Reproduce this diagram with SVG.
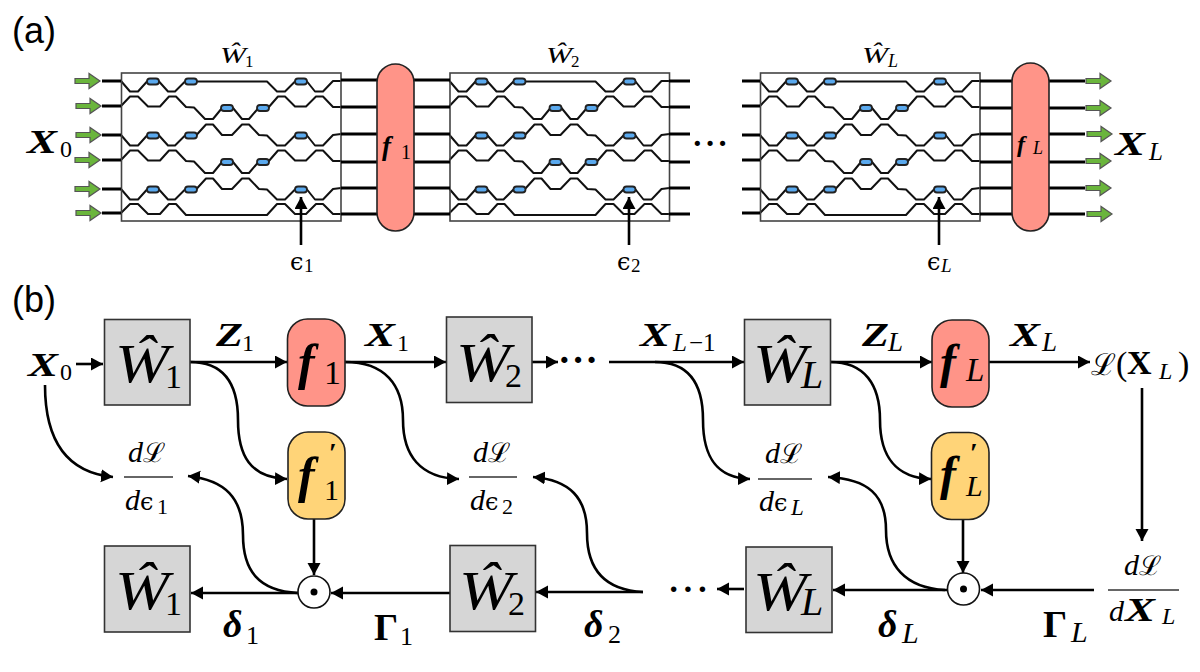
<svg xmlns="http://www.w3.org/2000/svg" width="1200" height="672" viewBox="0 0 1200 672">
<style>
text{font-family:"Liberation Serif","DejaVu Serif",serif;fill:#000}
.lab{font-family:"Liberation Sans",Arial,sans-serif;font-size:36px}
.bi{font-weight:bold;font-style:italic}
.b{font-weight:bold}
.i{font-style:italic}
.m{font-family:"DejaVu Serif","Liberation Serif",serif}
.mid{text-anchor:middle}
.wire{fill:none;stroke:#111;stroke-width:2;stroke-linejoin:round}
.stub{fill:none;stroke:#000;stroke-width:2.8}
.frame{fill:none;stroke:#444;stroke-width:1.6}
.pill{fill:#5aa9ee;stroke:#222;stroke-width:1.8}
.nl{fill:#ff9488;stroke:#222;stroke-width:1.6}
.nd{fill:#ffd478;stroke:#222;stroke-width:1.6}
.gb{fill:#d6d6d6;stroke:#333;stroke-width:1.6}
.odot{fill:#fff;stroke:#111;stroke-width:1.6}
.con{fill:none;stroke:#000;stroke-width:2.6;marker-end:url(#ah)}
.cur{fill:none;stroke:#000;stroke-width:2.6}
.frac{stroke:#333;stroke-width:1.5;fill:none}
.ga{fill:#6ab53c;stroke:#555;stroke-width:1.2}
</style>
<defs>
<marker id="ah" markerUnits="userSpaceOnUse" markerWidth="14" markerHeight="14" refX="12" refY="6.5" orient="auto"><path d="M0,0L12,6.5L0,13Z" fill="#000"/></marker>
<path id="ga" class="ga" d="M0,-2.5H14V-7.5L25,0L14,7.5V2.5H0Z"/>
<path id="w1" class="wire" d="M121,81L130,91.5L138,91.5L147,81.5L159,81.5L168,91.5L175,91.5L185,81.5L267,81.5L277,91.5L285,91.5L295,81.5L307,81.5L315,91.5L323,91.5L333,81L341,81"/>
<path id="w2" class="wire" d="M121,106L130,96.5L138,96.5L148,106.5L160,106.5L169,96.5L176,96.5L186,107L194,107.5L205,119L213,119L222,108L233,108L242,119L249,119L258,108.5L268,108L278,96.5L285,96.5L295,106.5L306,106.5L316,96.5L323,96.5L333,107L341,107"/>
<path id="w3" class="wire" d="M121,135L130,145.5L138,145.5L147,135.5L159,135.5L168,145.5L175,145.5L185,135.5L196,135.5L206,124.5L213,124.5L222,135L232,135L242,124.5L249,124.5L259,135L267,135.5L277,145.5L285,145.5L295,135.5L307,135.5L315,145.5L323,145.5L333,135L341,134"/>
<path id="w6" class="wire" d="M121,213L130,204L138,204L148,214L160,214L169,204L176,204L186,215L267,215L277,204L285,204L295,214L306,214L316,204L323,204L333,214L341,214"/>
<rect id="p" class="pill" x="-6" y="-3" width="12" height="6" rx="3"/>
<g id="mesh">
<use href="#w1"/><use href="#w2"/><use href="#w3"/><use href="#w2" y="54"/><use href="#w3" y="54"/><use href="#w6"/>
<use href="#p" x="153" y="81.5"/><use href="#p" x="191" y="81.5"/><use href="#p" x="301" y="81.5"/>
<use href="#p" x="227" y="108"/><use href="#p" x="263" y="108"/>
<use href="#p" x="153" y="135.5"/><use href="#p" x="191" y="135.5"/><use href="#p" x="301" y="135.5"/>
<use href="#p" x="227" y="162"/><use href="#p" x="263" y="162"/>
<use href="#p" x="153" y="189.5"/><use href="#p" x="191" y="189.5"/><use href="#p" x="301" y="189.5"/>
<rect class="frame" x="121.5" y="73" width="219.5" height="148"/>
</g>
</defs>

<rect width="1200" height="672" fill="#fff"/>
<text class="lab" x="12" y="43">(a)</text>
<text class="lab" x="12" y="312">(b)</text>

<g id="mesh-1"><use href="#mesh"/></g>
<g id="mesh-2"><use href="#mesh" x="328.5"/></g>
<g id="mesh-L"><use href="#mesh" x="639"/></g>

<g id="stubs">
<path class="stub" d="M102,81H121M102,106H121M102,135H121M102,160H121M102,189H121M102,213H121"/>
<path class="stub" d="M341,80H377M341,107H377M341,134H377M341,162H377M341,188H377M341,214H377"/>
<path class="stub" d="M414,80H450M414,107H450M414,134H450M414,162H450M414,188H450M414,214H450"/>
<path class="stub" d="M669,81H690M669,107H690M669,134H690M669,162H690M669,188H690M669,214H690"/>
<path class="stub" d="M742,81H760M742,106H760M742,135H760M742,160H760M742,189H760M742,213H760"/>
<path class="stub" d="M980,81H1012M980,108H1012M980,134H1012M980,162H1012M980,188H1012M980,214H1012"/>
<path class="stub" d="M1049,81H1085M1049,108H1085M1049,134H1085M1049,162H1085M1049,188H1085M1049,214H1085"/>
</g>

<g id="inputs">
<use href="#ga" x="75" y="81"/><use href="#ga" x="76" y="106"/><use href="#ga" x="76" y="135"/><use href="#ga" x="75" y="160"/><use href="#ga" x="75" y="189"/><use href="#ga" x="76" y="213"/>
</g>
<g id="outputs">
<use href="#ga" x="1086" y="81"/><use href="#ga" x="1086" y="108"/><use href="#ga" x="1087" y="134"/><use href="#ga" x="1086" y="161"/><use href="#ga" x="1086" y="188"/><use href="#ga" x="1087" y="214"/>
</g>

<g id="a-f1"><rect class="nl" x="377" y="64" width="37" height="167" rx="18.5"/><text class="bi" x="382" y="155" font-size="27">f</text><text x="401" y="159" font-size="20">1</text></g>
<g id="a-fL"><rect class="nl" x="1012" y="63" width="37" height="168" rx="18.5"/><text class="bi" x="1017" y="152" font-size="24">f</text><text class="i" x="1033" y="154" font-size="18">L</text></g>

<g id="a-labels">
<text class="i" x="220" y="63" font-size="24" textLength="26" lengthAdjust="spacingAndGlyphs">Ŵ</text><text x="245" y="67" font-size="17">1</text>
<text class="i" x="546" y="63" font-size="24" textLength="26" lengthAdjust="spacingAndGlyphs">Ŵ</text><text x="571" y="67" font-size="17">2</text>
<text class="i" x="862" y="63" font-size="24" textLength="26" lengthAdjust="spacingAndGlyphs">Ŵ</text><text class="i" x="888" y="67" font-size="18">L</text>
<text class="bi" x="27" y="153" font-size="34" textLength="30" lengthAdjust="spacingAndGlyphs">X</text><text x="60" y="157" font-size="24">0</text>
<text class="bi" x="1115" y="155" font-size="34" textLength="30" lengthAdjust="spacingAndGlyphs">X</text><text class="i" x="1149" y="160" font-size="25">L</text>
<text x="692" y="154" font-size="32" class="b" letter-spacing="2">···</text>
<text class="m" x="290" y="270" font-size="24">ϵ</text><text x="304" y="272" font-size="19">1</text>
<text class="m" x="617" y="270" font-size="24">ϵ</text><text x="631" y="272" font-size="19">2</text>
<text class="m" x="927" y="270" font-size="24">ϵ</text><text class="i" x="941" y="272" font-size="19">L</text>
</g>
<g id="a-probes">
<path class="con" d="M301,245V197"/><path class="con" d="M629,245V197"/><path class="con" d="M939,245V197"/>
</g>

<g id="connectors">
<path class="con" d="M76,364H103"/>
<path class="con" d="M190,362H287"/>
<path class="cur" d="M190,362C225,362 238,385 238,420"/>
<path class="con" d="M238,420C238,455 250,478 287,479"/>
<path class="con" d="M45,385C45,435 62,472 113,477"/>
<path class="con" d="M345,362H446"/>
<path class="con" d="M345,362C385,362 403,385 403,420C403,455 420,478 459,479"/>
<path class="con" d="M532,362H558"/>
<path class="con" d="M609,362H744"/>
<path class="con" d="M655,362C690,362 703,385 703,420C703,455 715,478 750,479"/>
<path class="con" d="M830,362H932"/>
<path class="con" d="M830,362C865,362 880,385 880,420C880,455 895,478 931,479"/>
<path class="con" d="M989,362H1090"/>
<path class="con" d="M1142,388V541"/>
<path class="con" d="M1094,590H981"/>
<path class="con" d="M947,590H833"/>
<path class="con" d="M945,590C905,588 886,565 886,530C886,495 868,479 828,477"/>
<path class="con" d="M963,519V573"/>
<path class="con" d="M314,519V575"/>
<path class="con" d="M298,593H191"/>
<path class="con" d="M298,593C258,591 243,570 243,535C243,498 225,480 188,476"/>
<path class="con" d="M450,593H331"/>
<path class="con" d="M643,592H536"/>
<path class="con" d="M643,592C603,590 587,568 587,533C587,498 570,480 533,477"/>
<path class="con" d="M744,589H717"/>
</g>

<g id="W1"><rect class="gb" x="104.5" y="319.5" width="85.5" height="85.5"/><text class="i" x="115" y="382" font-size="54" textLength="54" lengthAdjust="spacingAndGlyphs">Ŵ</text><text x="165" y="388" font-size="34">1</text></g>
<g id="f1"><rect class="nl" x="287.5" y="319" width="57.5" height="87" rx="20"/><text class="bi" x="298" y="379" font-size="50">f</text><text x="324" y="384" font-size="34">1</text></g>
<g id="W2"><rect class="gb" x="446.5" y="317" width="85.5" height="85.5"/><text class="i" x="456" y="381" font-size="54" textLength="54" lengthAdjust="spacingAndGlyphs">Ŵ</text><text x="505" y="387" font-size="34">2</text></g>
<g id="WL"><rect class="gb" x="744.5" y="319.5" width="86" height="85.5"/><text class="i" x="753" y="382" font-size="54" textLength="54" lengthAdjust="spacingAndGlyphs">Ŵ</text><text class="i" x="801" y="388" font-size="40">L</text></g>
<g id="fL"><rect class="nl" x="932" y="320" width="57" height="87" rx="20"/><text class="bi" x="940" y="378" font-size="48">f</text><text class="i" x="966" y="381" font-size="33">L</text></g>
<g id="f1p"><rect class="nd" x="288" y="432" width="57" height="87" rx="20"/><text class="bi" x="298" y="492" font-size="50">f</text><text x="324" y="500" font-size="30">1</text><text class="b" x="329" y="462" font-size="28">′</text></g>
<g id="fLp"><rect class="nd" x="931.5" y="432.5" width="57.5" height="87" rx="20"/><text class="bi" x="940" y="490" font-size="48">f</text><text class="i" x="966" y="496" font-size="30">L</text><text class="b" x="970" y="462" font-size="28">′</text></g>
<g id="W1b"><rect class="gb" x="104.5" y="546" width="85.5" height="86"/><text class="i" x="115" y="609" font-size="54" textLength="54" lengthAdjust="spacingAndGlyphs">Ŵ</text><text x="165" y="615" font-size="34">1</text></g>
<g id="W2b"><rect class="gb" x="450" y="545.5" width="85.5" height="86"/><text class="i" x="459" y="609" font-size="54" textLength="54" lengthAdjust="spacingAndGlyphs">Ŵ</text><text x="508" y="615" font-size="34">2</text></g>
<g id="WLb"><rect class="gb" x="746" y="547" width="86" height="85.5"/><text class="i" x="753" y="610" font-size="54" textLength="54" lengthAdjust="spacingAndGlyphs">Ŵ</text><text class="i" x="801" y="615" font-size="40">L</text></g>
<g id="dot1"><circle class="odot" cx="314" cy="592" r="16"/><circle cx="314" cy="592" r="3.5"/></g>
<g id="dotL"><circle class="odot" cx="963.5" cy="589" r="16"/><circle cx="963.5" cy="589" r="3.5"/></g>

<g id="b-labels">
<text class="bi" x="28" y="376" font-size="34" textLength="30" lengthAdjust="spacingAndGlyphs">X</text><text x="60" y="380" font-size="24">0</text>
<text class="bi" x="216" y="346" font-size="33" textLength="27" lengthAdjust="spacingAndGlyphs">Z</text><text x="242" y="351" font-size="24">1</text>
<text class="bi" x="365" y="346" font-size="34" textLength="30" lengthAdjust="spacingAndGlyphs">X</text><text x="397" y="351" font-size="24">1</text>
<text class="bi" x="640" y="346" font-size="34" textLength="30" lengthAdjust="spacingAndGlyphs">X</text><text class="i" x="673" y="351" font-size="25">L</text><text x="689" y="351" font-size="25">−1</text>
<text class="bi" x="862" y="346" font-size="33" textLength="27" lengthAdjust="spacingAndGlyphs">Z</text><text class="i" x="888" y="351" font-size="27">L</text>
<text class="bi" x="1010" y="346" font-size="34" textLength="30" lengthAdjust="spacingAndGlyphs">X</text><text class="i" x="1042" y="351" font-size="27">L</text>
<text class="m" x="1091" y="375" font-size="30">ℒ</text><text x="1116" y="375" font-size="34">(</text><text class="b" x="1127" y="374" font-size="34">X</text><text class="i" x="1159" y="379" font-size="24">L</text><text x="1178" y="375" font-size="34">)</text>
<text class="b i" x="223" y="637" font-size="38">δ</text><text x="246" y="644" font-size="26">1</text>
<text class="b" x="374" y="640" font-size="38">Γ</text><text x="400" y="645" font-size="26">1</text>
<text class="b i" x="584" y="637" font-size="38">δ</text><text x="608" y="643" font-size="26">2</text>
<text class="b i" x="878" y="637" font-size="38">δ</text><text class="i" x="902" y="643" font-size="30">L</text>
<text class="b" x="1043" y="637" font-size="38">Γ</text><text class="i" x="1071" y="642" font-size="30">L</text>
<text class="b" x="558" y="373" font-size="38" letter-spacing="1">···</text>
<text class="b" x="668" y="600" font-size="34" letter-spacing="3">···</text>
</g>
<g id="fractions">
<path class="frac" d="M124,477H173"/><text class="i" x="128" y="462" font-size="30">d</text><text class="m" x="143" y="462" font-size="27">ℒ</text>
<text class="i" x="125" y="510" font-size="30">d</text><text class="m" x="140" y="510" font-size="24">ϵ</text><text x="157" y="514" font-size="22">1</text>
<path class="frac" d="M469,477H517"/><text class="i" x="473" y="462" font-size="30">d</text><text class="m" x="488" y="462" font-size="27">ℒ</text>
<text class="i" x="470" y="510" font-size="30">d</text><text class="m" x="485" y="510" font-size="24">ϵ</text><text x="502" y="514" font-size="22">2</text>
<path class="frac" d="M758,479H812"/><text class="i" x="765" y="463" font-size="30">d</text><text class="m" x="780" y="463" font-size="27">ℒ</text>
<text class="i" x="759" y="511" font-size="30">d</text><text class="m" x="774" y="511" font-size="24">ϵ</text><text class="i" x="791" y="515" font-size="23">L</text>
<path class="frac" d="M1108,590H1179"/><text class="i" x="1124" y="575" font-size="30">d</text><text class="m" x="1139" y="575" font-size="27">ℒ</text>
<text class="i" x="1109" y="621" font-size="30">d</text><text class="bi" x="1125" y="621" font-size="33" textLength="30" lengthAdjust="spacingAndGlyphs">X</text><text class="i" x="1162" y="624" font-size="24">L</text>
</g>
</svg>
